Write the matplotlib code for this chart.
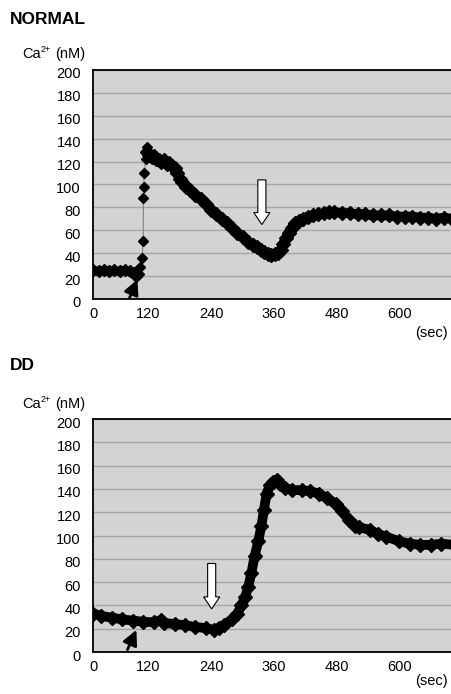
import numpy as np
import matplotlib
matplotlib.use("Agg")
import matplotlib.pyplot as plt
from matplotlib.patches import FancyArrow
from matplotlib.transforms import ScaledTranslation

plt.rcParams['font.family'] = ['Liberation Sans', 'DejaVu Sans']

# x axis: first tick ("0") sits at the left edge of the plot
tick_pos = [15, 120, 240, 360, 480, 600]
tick_lab = ['0', '120', '240', '360', '480', '600']
y_ticks = [0, 20, 40, 60, 80, 100, 120, 140, 160, 180, 200]

# NORMAL: baseline, fast rise (sparse points), decay + recovery
normal_base_t = [15, 25, 35, 45, 55, 65, 75, 85, 92, 96, 100]
normal_base_ca = [25, 24, 25, 24, 25, 24, 25, 24, 23, 20, 22]
normal_rise_t = [100, 104, 108, 110, 110.5, 111, 112, 115, 118]
normal_rise_ca = [22, 28, 36, 51, 88, 98, 110, 122, 133]
normal_t = [118, 122, 126, 130, 135, 140, 145, 150, 155, 160, 165, 170, 175, 180,
            185, 192, 200, 210, 220, 230, 240, 250, 260, 270, 280, 290, 300, 310,
            320, 328, 335, 342, 348, 355, 362, 368, 373, 378, 383, 388, 394, 400,
            408, 415, 425, 435, 445, 455, 465, 475, 490, 505, 520, 535, 550, 565,
            580, 595, 610, 625, 640, 655, 670, 685, 700, 705]
normal_ca = [128, 126, 124, 125, 122, 121, 120, 121, 118, 119, 116, 114, 110, 105,
             102, 98, 95, 91, 87, 83, 78, 74, 70, 66, 62, 58, 54, 50,
             47, 45, 43, 41, 39, 38, 39, 40, 43, 48, 53, 58, 62, 66,
             68, 70, 72, 73, 74, 75, 76, 76, 75, 75, 74, 74, 73, 73,
             73, 72, 72, 72, 71, 71, 70, 71, 70, 71]

# DD
dd_t = [15, 30, 50, 70, 90, 110, 130, 144, 150, 170, 190, 210, 230, 246, 255,
        265, 280, 290, 298, 305, 311, 317, 323, 330, 336, 341, 346, 352, 358,
        365, 372, 381, 395, 414, 430, 446, 462, 478, 490, 504, 515, 523, 543,
        560, 575, 600, 620, 639, 660, 680, 705]
dd_ca = [33, 31, 29.5, 28, 27, 26, 25.5, 27.5, 25, 24, 23, 21.5, 20.5, 19, 21,
         23, 28, 33, 40, 47, 56, 68, 82, 95, 108, 122, 136, 143, 146,
         148, 144, 141, 139, 139, 138, 136, 132, 127, 121, 113, 108, 107, 105,
         101, 99, 95, 93, 92, 92, 93, 92]

# arrows: (x, y_top, y_tip) for white, (x_tail, y_tail, x_tip, y_tip) for black
normal_white = (337, 104, 65)
normal_black = (84, 1, 99, 17)
dd_white = (241, 76, 37)
dd_black = (80, 2, 97, 19)

fig = plt.figure(figsize=(4.51, 6.94), dpi=100)
ax1 = fig.add_axes([0.2073, 0.5692, 0.80, 0.3300])
ax2 = fig.add_axes([0.2073, 0.0605, 0.80, 0.3357])


def style(ax):
    ax.set_facecolor('#d3d3d3')
    ax.set_xlim(15, 705)
    ax.set_ylim(0, 200)
    ax.set_yticks(y_ticks)
    ax.set_xticks(tick_pos)
    ax.set_xticklabels(tick_lab)
    ax.grid(axis='y', color='#a6a6a6', lw=1.0)
    ax.set_axisbelow(True)
    ax.spines['right'].set_visible(False)
    for s in ['left', 'bottom', 'top']:
        ax.spines[s].set_linewidth(1.3)
        ax.spines[s].set_color('black')
    ax.tick_params(length=0, labelsize=10.5, pad=9)
    ax.tick_params(axis='x', pad=6)
    off = ScaledTranslation(0, -3 / 100, fig.dpi_scale_trans)
    for lab in ax.get_yticklabels():
        lab.set_transform(lab.get_transform() + off)


def white_arrow(ax, spec, yscale):
    x, ytop, ytip = spec
    # sizes in pixels converted to data units (x: 0.518 px/s)
    arr = FancyArrow(x, ytop, 0, ytip - ytop, width=8 / 0.518,
                     head_width=16 / 0.518, head_length=12 / yscale,
                     length_includes_head=True, fc='white', ec='black', lw=0.8,
                     zorder=5)
    ax.add_patch(arr)


def black_arrow(ax, spec):
    x0, y0, x1, y1 = spec
    ax.annotate('', xy=(x1, y1), xytext=(x0, y0),
                arrowprops=dict(arrowstyle='-|>,head_width=0.45,head_length=0.9',
                                lw=2.0, color='black', shrinkA=0, shrinkB=0),
                annotation_clip=False, zorder=5)


style(ax1)
style(ax2)

# NORMAL
ax1.plot(normal_rise_t, normal_rise_ca, color='#808080', lw=0.8,
         marker='D', ms=5.5, mfc='black', mec='black', zorder=3)
ax1.plot(normal_base_t, normal_base_ca, color='black', lw=6.5,
         solid_capstyle='round', zorder=3)
ax1.plot(normal_base_t, normal_base_ca, ls='none', marker='D', ms=6.5,
         color='black', zorder=3)
ax1.plot(normal_t, normal_ca, color='black', lw=7, solid_capstyle='round',
         solid_joinstyle='round', zorder=3)
ax1.plot(normal_t, normal_ca, ls='none', marker='D', ms=7, color='black', zorder=3)
white_arrow(ax1, normal_white, 229 / 200)
black_arrow(ax1, normal_black)

# DD
ax2.plot(dd_t, dd_ca, color='black', lw=7, solid_capstyle='round',
         solid_joinstyle='round', zorder=3)
ax2.plot(dd_t, dd_ca, ls='none', marker='D', ms=7, color='black', zorder=3)
white_arrow(ax2, dd_white, 233 / 200)
black_arrow(ax2, dd_black)

fig.text(10 / 451, 1 - 19 / 694, 'NORMAL', fontsize=12.5, fontweight='bold',
         va='center', ha='left')
fig.text(10 / 451, 1 - 366 / 694, 'DD', fontsize=12.5, fontweight='bold',
         va='center', ha='left')
for yc in [54, 404]:
    fig.text(22 / 451, 1 - yc / 694, 'Ca', fontsize=10.5, va='center', ha='left')
    fig.text(41 / 451, 1 - (yc - 4) / 694, '2+', fontsize=6.5, va='center',
             ha='left')
    fig.text(55 / 451, 1 - yc / 694, '(nM)', fontsize=10.5, va='center',
             ha='left')
for yc in [333, 681]:
    fig.text(448 / 451, 1 - yc / 694, '(sec)', fontsize=10.5,
             va='center', ha='right')

fig.savefig('out.png', dpi=100)
